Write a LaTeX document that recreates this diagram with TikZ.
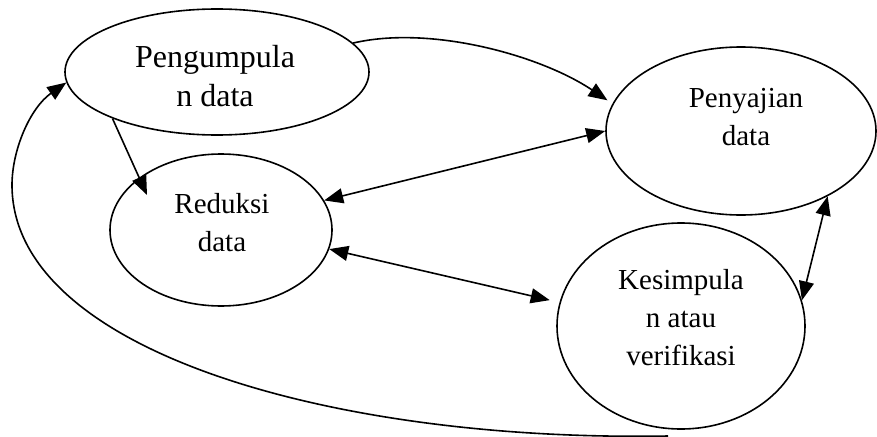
\documentclass[tikz,border=0pt]{standalone}
\usepackage{fontspec}
\setmainfont{Liberation Serif}
\usetikzlibrary{arrows.meta,shapes.geometric,calc}

\begin{document}
\begin{tikzpicture}
  [x=1pt,y=-1pt,line width=1.6pt,
   bubble/.style={ellipse,draw,inner sep=0pt},
   lbl/.style={align=center,inner sep=0pt,font=\fontsize{29}{38}\selectfont},
   arr/.style={-{Triangle[length=19pt,width=15pt]}},
   darr/.style={{Triangle[length=19pt,width=15pt]}-{Triangle[length=19pt,width=15pt]}}]
  \useasboundingbox (0,0) rectangle (877,436);
  % the four stages
  \node[bubble,minimum width=304pt,minimum height=126pt] (kumpul) at (217,72) {};
  \node[bubble,minimum width=270pt,minimum height=168pt] (sajian) at (741,131) {};
  \node[bubble,minimum width=222pt,minimum height=152pt] (reduksi) at (221,230) {};
  \node[bubble,minimum width=248pt,minimum height=206pt] (simpul) at (681,326) {};
  \node[lbl,font=\fontsize{32}{39}\selectfont] (kumpul-t) at (215,76) {Pengumpula\\n data};
  \node[lbl] (sajian-t) at (746,117) {Penyajian\\data};
  \node[lbl] (reduksi-t) at (222,223) {Reduksi\\data};
  \node[lbl] (simpul-t) at (681,318) {Kesimpula\\n atau\\verifikasi};
  \coordinate (tail) at (668,436);
  % arrows
  \draw[arr,shorten >=6pt] (kumpul.12) .. controls (430,25) and (540,55) .. (sajian.168);
  \draw[arr] (kumpul.204.6) -- ($(reduksi.center)+(-74,-35)$);
  \draw[darr] (reduksi.16.6) -- (sajian.180);
  \draw[darr,shorten >=10pt] (reduksi.350) -- (simpul.169);
  \draw[darr] (sajian.323.7) -- (simpul.12.7);
  \draw[arr] (tail) .. controls (330,442) and (12,350) .. (12,185)
    .. controls (12,150) and (30,108) .. (kumpul.184);
\end{tikzpicture}
\end{document}
